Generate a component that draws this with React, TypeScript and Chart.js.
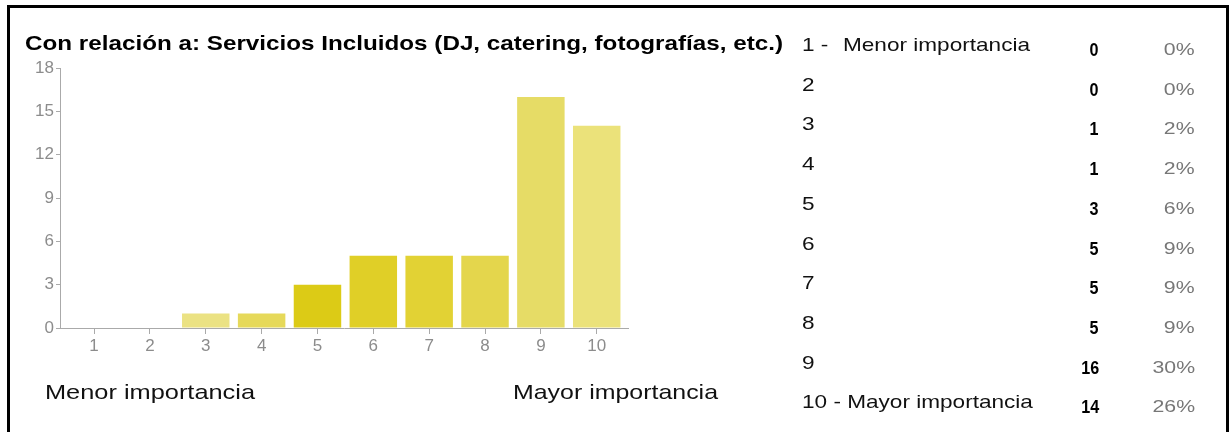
import React, { useEffect, useRef } from "react";
import { Chart, registerables } from "chart.js";

Chart.register(...registerables);

const title = "Con relación a: Servicios Incluidos (DJ, catering, fotografías, etc.)";
const categories = [1, 2, 3, 4, 5, 6, 7, 8, 9, 10];
const counts = [0, 0, 1, 1, 3, 5, 5, 5, 16, 14];
const percents = ["0%", "0%", "2%", "2%", "6%", "9%", "9%", "9%", "30%", "26%"];
const rowLabels = ["1 -", "2", "3", "4", "5", "6", "7", "8", "9", "10 - Mayor importancia"];
const firstRowExtra = "Menor importancia";
const barColors = [
  "#ebe283", "#ebe283", "#ebe283", "#e6d95a", "#dccb16",
  "#e0cf27", "#e2d234", "#e4d64c", "#e6dc66", "#ebe27a",
];
const yTicks = [0, 3, 6, 9, 12, 15, 18];
const axisLeftLabel = "Menor importancia";
const axisRightLabel = "Mayor importancia";

const FONT = "'Liberation Sans', Arial, sans-serif";

let measureCtx: CanvasRenderingContext2D | null = null;
function textWidth(text: string, font: string): number {
  if (!measureCtx) {
    const c = document.createElement("canvas");
    measureCtx = c.getContext("2d");
  }
  if (!measureCtx) return text.length * 10;
  measureCtx.font = font;
  return measureCtx.measureText(text).width;
}

function Stretch(props: {
  text: string;
  left?: number;
  right?: number;
  top: number;
  size: number;
  bold?: boolean;
  color: string;
  width?: number;
  scale?: number;
  lineHeight: number;
}) {
  const { text, left, right, top, size, bold, color, width, lineHeight } = props;
  const font = `${bold ? "bold " : ""}${size}px 'Liberation Sans'`;
  const natural = textWidth(text, font);
  const s = props.scale ?? (width ? width / natural : 1);
  const style: React.CSSProperties = {
    position: "absolute",
    top,
    fontSize: size,
    fontWeight: bold ? "bold" : "normal",
    color,
    whiteSpace: "nowrap",
    lineHeight: `${lineHeight}px`,
    transform: `scaleX(${s})`,
    transformOrigin: right !== undefined ? "right center" : "left center",
  };
  if (left !== undefined) style.left = left;
  if (right !== undefined) style.right = right;
  return <div style={style}>{text}</div>;
}

export default function App() {
  const ref = useRef<HTMLCanvasElement | null>(null);

  useEffect(() => {
    if (!ref.current) return;
    const chart = new Chart(ref.current, {
      type: "bar",
      data: {
        datasets: [
          {
            data: categories.map((c, i) => ({ x: c, y: counts[i] })),
            backgroundColor: barColors,
            borderWidth: 0,
            categoryPercentage: 1,
            barPercentage: 0.85,
          },
        ],
      },
      options: {
        animation: false,
        responsive: false,
        maintainAspectRatio: false,
        layout: { padding: { left: 10, right: 603, top: 68, bottom: 74 } },
        plugins: { legend: { display: false }, tooltip: { enabled: false }, title: { display: false } },
        scales: {
          x: {
            type: "linear",
            offset: false,
            min: 0.39,
            max: 10.56,
            afterBuildTicks: (scale: any) => {
              scale.ticks = categories.map((v) => ({ value: v }));
            },
            afterFit: (scale: any) => {
              scale.height = 30;
            },
            grid: { offset: false, drawOnChartArea: false, drawTicks: true, tickLength: 6, color: "#aaaaaa" },
            border: { color: "#aaaaaa", width: 1 },
            ticks: { color: "#8c8c8c", font: { family: FONT, size: 17 }, padding: 2, autoSkip: false, maxRotation: 0 },
          },
          y: {
            min: 0,
            max: 18,
            afterBuildTicks: (scale: any) => {
              scale.ticks = yTicks.map((v) => ({ value: v }));
            },
            afterFit: (scale: any) => {
              scale.width = 50;
            },
            grid: { drawOnChartArea: false, drawTicks: true, tickLength: 4, color: "#aaaaaa" },
            border: { color: "#aaaaaa", width: 1 },
            ticks: { color: "#8c8c8c", font: { family: FONT, size: 17 }, padding: 2 },
          },
        },
      },
    });
    return () => chart.destroy();
  }, []);

  const rowTop = 33;
  const rowStep = 39.7;
  const tableSize = 19;
  const tableScale = 187 / textWidth(firstRowExtra, `${tableSize}px 'Liberation Sans'`);

  return (
    <div style={{ position: "fixed", left: 0, top: 0, width: 1231, height: 432, background: "#fff", overflow: "hidden", fontFamily: FONT }}>
      <div style={{ position: "absolute", left: 7, top: 5, width: 1216, height: 440, border: "3px solid #000", boxSizing: "content-box" }} />
      <canvas ref={ref} width={1231} height={432} style={{ position: "absolute", left: 0, top: 0, width: 1231, height: 432 }} />
      <Stretch text={title} left={25} top={31} size={21} bold color="#000" width={758} lineHeight={24} />
      <Stretch text={axisLeftLabel} left={45} top={379} size={21} color="#111" width={210} lineHeight={26} />
      <Stretch text={axisRightLabel} left={513} top={379} size={21} color="#111" width={205} lineHeight={26} />
      {rowLabels.map((lab, i) => (
        <React.Fragment key={i}>
          <Stretch text={lab} left={802} top={rowTop + i * rowStep} size={tableSize} color="#111" scale={tableScale} lineHeight={24} />
          {i === 0 && (
            <Stretch text={firstRowExtra} left={843} top={rowTop} size={tableSize} color="#111" scale={tableScale} lineHeight={24} />
          )}
          <Stretch text={String(counts[i])} right={1231 - 1099} top={rowTop + 5 + i * rowStep} size={19} bold color="#000" scale={0.85} lineHeight={24} />
          <Stretch text={percents[i]} right={1231 - 1195} top={rowTop + 5 + i * rowStep} size={17} color="#777" scale={1.25} lineHeight={24} />
        </React.Fragment>
      ))}
    </div>
  );
}
